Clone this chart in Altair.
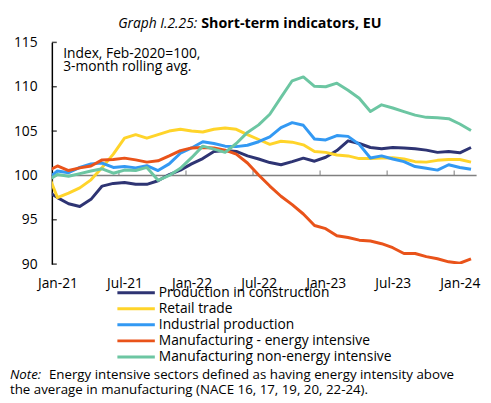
import altair as alt
import pandas as pd

# Month index: -1 = Dec-20, 0 = Jan-21 ... 37 = Feb-24
months = list(range(-1, 38))

construction = [98.3, 97.5, 96.8, 96.5, 97.3, 98.8, 99.1, 99.2, 99.0, 99.0, 99.4, 100.1, 100.6,
                101.3, 101.9, 102.7, 102.8, 102.7, 102.2, 101.85, 101.45, 101.2, 101.55, 101.95,
                101.6, 102.05, 102.8, 103.9, 103.6, 103.15, 103.0, 103.15, 103.1, 103.0, 102.85,
                102.6, 102.7, 102.55, 103.15]
retail = [100.7, 97.5, 98.0, 98.6, 99.5, 100.9, 102.4, 104.2, 104.6, 104.2, 104.6, 105.0, 105.2,
          105.0, 104.9, 105.2, 105.35, 105.2, 104.6, 104.05, 103.5, 103.85, 103.75, 103.45,
          102.7, 102.6, 102.3, 102.2, 101.9, 101.9, 101.95, 102.0, 101.85, 101.55, 101.5,
          101.7, 101.8, 101.8, 101.5]
industrial = [99.5, 100.5, 100.3, 100.9, 101.3, 101.4, 100.9, 101.0, 100.85, 101.1, 100.55, 101.3,
              102.5, 103.1, 103.8, 103.6, 103.3, 103.25, 103.4, 103.8, 104.35, 105.4, 105.95,
              105.65, 104.1, 104.0, 104.5, 104.4, 103.5, 101.96, 102.2, 101.85, 101.55, 101.0,
              100.8, 100.6, 101.2, 100.9, 100.7]
energy_int = [100.4, 101.07, 100.55, 100.85, 101.07, 101.75, 101.8, 101.95, 101.75, 101.5, 101.65,
              102.2, 102.8, 103.1, 103.15, 103.1, 102.85, 102.4, 101.4, 100.05, 98.8, 97.65,
              96.7, 95.65, 94.35, 94.0, 93.2, 93.0, 92.7, 92.6, 92.3, 91.85, 91.2, 91.2, 90.85,
              90.6, 90.26, 90.1, 90.6]
non_energy = [99.3, 100.1, 99.9, 100.2, 100.5, 100.75, 100.25, 100.6, 100.55, 100.9, 99.45, 100.0,
              100.8, 102.0, 103.3, 102.96, 102.6, 103.6, 104.85, 105.7, 106.9, 108.8, 110.67,
              111.1, 110.05, 110.0, 110.4, 109.6, 108.7, 107.2, 107.96, 107.6, 107.2, 106.8,
              106.55, 106.5, 106.4, 105.8, 105.07]

series_names = ["Production in construction", "Retail trade", "Industrial production",
                "Manufacturing - energy intensive", "Manufacturing non-energy intensive"]
series_values = [construction, retail, industrial, energy_int, non_energy]
colors = ["#2E3473", "#FFD42A", "#3399F3", "#E9531A", "#6CC6A2"]

x_labels = ["Jan-21", "Jul-21", "Jan-22", "Jul-22", "Jan-23", "Jul-23", "Jan-24"]
x_label_pos = [0, 6, 12, 18, 24, 30, 36]
x_tick_pos = [5.5, 11.5, 17.5, 23.5, 29.5, 35.5]
y_ticks = [90, 95, 100, 105, 110, 115]

rows = []
for name, vals in zip(series_names, series_values):
    for m, v in zip(months, vals):
        rows.append({"series": name, "m": m, "value": v})
df = pd.DataFrame(rows)

FONT = "Open Sans"
W, H = 431, 225

xscale = alt.Scale(domain=[-0.5, 37.5], nice=False, zero=False)
yscale = alt.Scale(domain=[90, 115], nice=False, zero=False)
cscale = alt.Scale(domain=series_names, range=colors)

label_expr = "{" + ",".join(f"'{p}':'{l}'" for p, l in zip(x_label_pos, x_labels)) + "}[datum.value]"

lines = alt.Chart(df).mark_line(strokeWidth=3, clip=True, strokeJoin="round").encode(
    x=alt.X("m:Q", scale=xscale,
            axis=alt.Axis(values=x_label_pos, labelExpr=label_expr, title=None, grid=False,
                          domain=False, ticks=False, labelFont=FONT, labelFontSize=14,
                          labelColor="black", labelPadding=13)),
    y=alt.Y("value:Q", scale=yscale,
            axis=alt.Axis(values=y_ticks, title=None, grid=False, domain=True, domainColor="black",
                          domainWidth=1.5, ticks=False, labelFont=FONT, labelFontSize=14,
                          labelColor="black", labelPadding=15)),
    color=alt.Color("series:N", scale=cscale, legend=None),
    order="m:Q",
)

zero_line = alt.Chart(pd.DataFrame({"a": [0]})).mark_rule(color="#808080", strokeWidth=1.5).encode(
    x=alt.datum(-0.5, scale=xscale), x2=alt.datum(37.5), y=alt.datum(100, scale=yscale))

xticks = alt.Chart(pd.DataFrame({"t": x_tick_pos})).mark_tick(
    orient="vertical", size=5, thickness=1.5, color="#808080", yOffset=-2.5).encode(
    x=alt.X("t:Q", scale=xscale), y=alt.datum(100, scale=yscale))

yticks = alt.Chart(pd.DataFrame({"t": y_ticks})).mark_tick(
    orient="horizontal", size=5, thickness=1.5, color="black", xOffset=2.5).encode(
    y=alt.Y("t:Q", scale=yscale), x=alt.datum(-0.5, scale=xscale))

# manual legend below the plot (rows spaced 16.3 px starting 29 px under the plot)
leg_df = pd.DataFrame({"series": series_names, "row": list(range(len(series_names)))})
leg_base = alt.Chart(leg_df).transform_calculate(ly="90 - (29 + 16.3 * datum.row) / 9")
leg_rules = leg_base.mark_rule(strokeWidth=3).encode(
    x=alt.value(66.5), x2=alt.value(104.5),
    y=alt.Y("ly:Q", scale=yscale),
    color=alt.Color("series:N", scale=cscale, legend=None))
leg_text = leg_base.mark_text(font=FONT, fontSize=14, align="left", baseline="middle",
                              color="black").encode(
    x=alt.value(108.5), y=alt.Y("ly:Q", scale=yscale), text="series:N")

note_df = pd.DataFrame({"a": [0]})
def txt(text, x, y, style="normal", weight="normal", align="left", size=14):
    return alt.Chart(note_df).mark_text(text=text, font=FONT, fontSize=size, fontStyle=style,
                                        fontWeight=weight, align=align, baseline="alphabetic",
                                        color="black").encode(x=alt.value(x), y=alt.value(y))

title1 = txt("Graph I.2.25:", 147.5, -15, style="italic", align="right")
title2 = txt("Short-term indicators, EU", 151.5, -15, weight="bold", size=14.5)
ann1 = txt("Index, Feb-2020=100,", 11.5, 16)
ann2 = txt("3-month rolling avg.", 11.5, 29.5)
note1 = txt("Note:", -42.5, 341.5, style="italic", size=13.5)
note2 = txt("Energy intensive sectors defined as having energy intensity above", -3, 341.5, size=13.5)
note3 = txt("the average in manufacturing (NACE 16, 17, 19, 20, 22-24).", -42.5, 357, size=13.5)

chart = alt.layer(zero_line, xticks, yticks, lines, leg_rules, leg_text,
                  title1, title2, ann1, ann2, note1, note2, note3).properties(
    width=W, height=H,
    autosize=alt.AutoSizeParams(type="none"),
    padding={"left": 44.5, "top": 32, "right": 6.5, "bottom": 135},
).configure_view(stroke=None)

chart.save("out.html", embed_options={"renderer": "svg", "actions": False})
